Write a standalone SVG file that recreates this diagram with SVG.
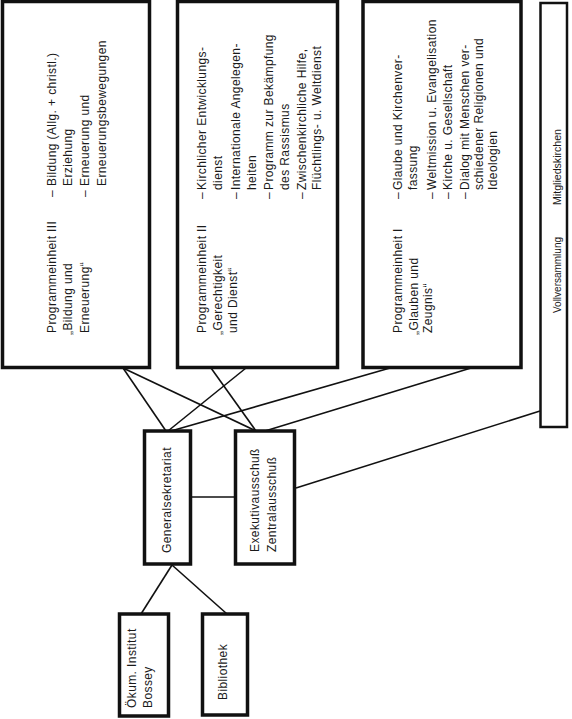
<svg xmlns="http://www.w3.org/2000/svg" width="572" height="719" viewBox="0 0 572 719">
<style>
.box{fill:#fff;stroke:#111;stroke-width:3.5}
.thin{fill:#fff;stroke:#111;stroke-width:2.5}
.ln{stroke:#111;stroke-width:1.6;fill:none}
text{font-family:"Liberation Sans",Arial,Helvetica,sans-serif;font-size:12px;fill:#1a1a1a;letter-spacing:0.4px}
.sm{font-size:11.5px;letter-spacing:0}
</style>
<rect width="572" height="719" fill="#fff"/>
<g id="connectors">
<line class="ln" x1="123" y1="368" x2="166" y2="431"/>
<line class="ln" x1="123" y1="368" x2="256" y2="431"/>
<line class="ln" x1="211" y1="368" x2="256" y2="431"/>
<line class="ln" x1="246" y1="368" x2="168" y2="431"/>
<line class="ln" x1="390" y1="368" x2="171" y2="431"/>
<line class="ln" x1="471" y1="368" x2="265" y2="431"/>
<line class="ln" x1="191" y1="497" x2="235" y2="497"/>
<line class="ln" x1="296" y1="488" x2="540" y2="411"/>
<line class="ln" x1="172" y1="565" x2="141" y2="614"/>
<line class="ln" x1="172" y1="565" x2="227" y2="614"/>
</g>
<g id="pe3">
<rect class="box" x="2.5" y="1.5" width="147" height="366"/>
<g transform="rotate(-90)">
<text x="-333" y="56">Programmeinheit III</text>
<text x="-335" y="72">„Bildung und</text>
<text x="-333" y="89">Erneuerung“</text>
<text x="-197" y="56">–</text>
<text x="-186" y="56">Bildung (Allg. + christl.)</text>
<text x="-186" y="72">Erziehung</text>
<text x="-197" y="89">–</text>
<text x="-186" y="89">Erneuerung und</text>
<text x="-186" y="106">Erneuerungsbewegungen</text>
</g>
</g>
<g id="pe2">
<rect class="box" x="177.5" y="1.5" width="160" height="366"/>
<g transform="rotate(-90)">
<text x="-333" y="206">Programmeinheit II</text>
<text x="-335" y="222">„Gerechtigkeit</text>
<text x="-333" y="237">und Dienst“</text>
<text x="-199" y="206">–</text>
<text x="-190" y="206">Kirchlicher Entwicklungs-</text>
<text x="-190" y="222">dienst</text>
<text x="-199" y="240">–</text>
<text x="-190" y="240">Internationale Angelegen-</text>
<text x="-190" y="256">heiten</text>
<text x="-199" y="273">–</text>
<text x="-190" y="273">Programm zur Bekämpfung</text>
<text x="-190" y="289">des Rassismus</text>
<text x="-199" y="306">–</text>
<text x="-190" y="306">Zwischenkirchliche Hilfe,</text>
<text x="-190" y="321">Flüchtlings- u. Weltdienst</text>
</g>
</g>
<g id="pe1">
<rect class="box" x="363" y="1.5" width="158" height="366"/>
<g transform="rotate(-90)">
<text x="-333" y="402">Programmeinheit I</text>
<text x="-335" y="418">„Glauben und</text>
<text x="-333" y="432">Zeugnis“</text>
<text x="-199" y="402">–</text>
<text x="-190" y="402">Glaube und Kirchenver-</text>
<text x="-190" y="417">fassung</text>
<text x="-199" y="436">–</text>
<text x="-190" y="436">Weltmission u. Evangelisation</text>
<text x="-199" y="452">–</text>
<text x="-190" y="452">Kirche u. Gesellschaft</text>
<text x="-199" y="469">–</text>
<text x="-190" y="469">Dialog mit Menschen ver-</text>
<text x="-190" y="483">schiedener Religionen und</text>
<text x="-190" y="497">Ideologien</text>
</g>
</g>
<g id="vollversammlung">
<rect class="thin" x="540.5" y="3" width="26.5" height="424"/>
<g transform="rotate(-90)">
<text class="sm" x="-313" y="561" textLength="76" lengthAdjust="spacingAndGlyphs">Vollversammlung</text>
<text class="sm" x="-205" y="561" textLength="76" lengthAdjust="spacingAndGlyphs">Mitgliedskirchen</text>
</g>
</g>
<g id="generalsekretariat">
<rect class="box" x="144.5" y="431" width="46" height="133"/>
<g transform="rotate(-90)">
<text x="-553" y="171">Generalsekretariat</text>
</g>
</g>
<g id="ausschuss">
<rect class="box" x="235.5" y="431" width="59" height="133"/>
<g transform="rotate(-90)">
<text x="-552" y="259">Exekutivausschuß</text>
<text x="-552" y="276">Zentralausschuß</text>
</g>
</g>
<g id="bossey">
<rect class="box" x="119.5" y="614" width="49" height="102"/>
<g transform="rotate(-90)">
<text x="-708" y="136" letter-spacing="0.1">Ökum. Institut</text>
<text x="-708" y="152" letter-spacing="0.1">Bossey</text>
</g>
</g>
<g id="bibliothek">
<rect class="box" x="202.5" y="614" width="45" height="101"/>
<g transform="rotate(-90)">
<text x="-700" y="227" letter-spacing="0">Bibliothek</text>
</g>
</g>
</svg>
